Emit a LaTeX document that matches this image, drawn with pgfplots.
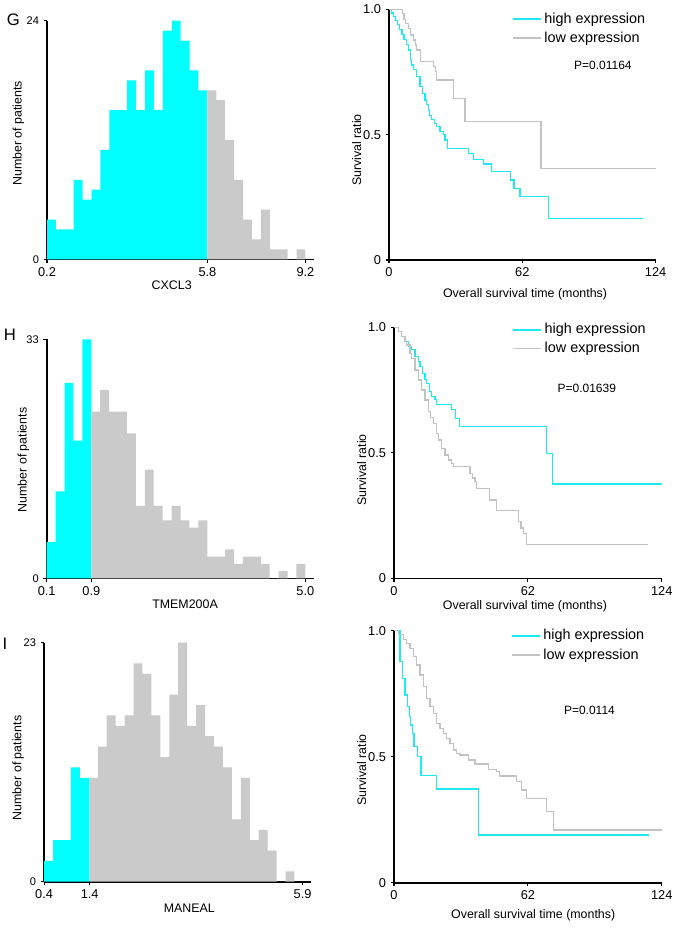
\documentclass[border=0pt]{standalone}
\usepackage{pgfplots}
\pgfplotsset{compat=1.18}
\usepackage{fontspec}
\setmainfont{Liberation Sans}
\definecolor{hcyan}{RGB}{0,255,255}
\definecolor{hgrey}{RGB}{202,202,202}
\definecolor{kmcyan}{RGB}{30,232,242}
\definecolor{kmgrey}{RGB}{195,195,195}
\newcommand{\lblfont}{\fontsize{9.3}{10}\selectfont}
\newcommand{\tckfont}{\fontsize{9.6}{10}\selectfont}
\pgfplotsset{
  base/.style={scale only axis, axis x line*=bottom, axis y line*=left,
    axis line style={line width=1.2pt, black}, tick align=outside,
    major tick length=2.5pt, tick style={line width=0.9pt, black}, clip=false,
    xticklabel style={font=\tckfont}, yticklabel style={font=\tckfont},
    xlabel style={font=\lblfont, anchor=center}, ylabel style={font=\lblfont, anchor=center}},
  hist/.style={base, ymin=0, xmin=0, xmax=30,
    yticklabel style={font=\fontsize{8.3}{9}\selectfont}},
  km/.style={base, xmin=0, xmax=124, ymin=0, ymax=1, xtick={0,62,124}, xticklabels={0,62,124},
    ytick={0,0.5,1}, yticklabels={0,0.5,1.0}, ylabel={Survival ratio},
    xlabel={Overall survival time (months)},
    legend cell align=left,
    legend image code/.code={\draw[##1] (0pt,0pt) -- (21pt,0pt);},
    legend style={draw=none, fill=none, inner sep=0pt, row sep=1pt,
      font=\fontsize{10.8}{11.5}\selectfont, column sep=0pt}},
  kmhigh/.style={const plot, kmcyan, line width=0.9pt, legend image post style={line width=1.5pt}},
  kmlow/.style={const plot, kmgrey, line width=1pt},
}
\begin{document}
\begin{tikzpicture}
\path[use as bounding box] (0,0) rectangle (507.75pt,-696pt);

% ---------- G histogram ----------
\begin{axis}[hist, at={(35.25pt,-194.475pt)}, anchor=south west, width=200.5pt, height=178.95pt,
  ymax=24, ytick={0,24}, yticklabels={0,24},
  xtick={0,18,29}, xticklabels={0.2,5.8,9.2},
  xlabel={CXCL3}, xlabel style={at={(axis description cs:0.4665,-0.108)}},
  ylabel={Number of patients}, ylabel style={at={(axis description cs:-0.107,0.528)}}]
\addplot[ybar interval, fill=hcyan, draw=none] coordinates {
 (0,4) (1,3) (2,3) (3,8) (4,6) (5,7) (6,11) (7,15) (8,15) (9,18) (10,15) (11,19)
 (12,15) (13,23) (14,24) (15,22) (16,19) (17,17) (18,0)};
\addplot[ybar interval, fill=hgrey, draw=none] coordinates {
 (18,17) (19,16) (20,12) (21,8) (22,4) (23,2) (24,5) (25,1) (26,1) (27,0) (28,1) (29,0)};
\end{axis}

% ---------- G survival ----------
\begin{axis}[km, at={(291.75pt,-195pt)}, anchor=south west, width=200pt, height=188pt,
  xlabel style={at={(axis description cs:0.51,-0.137)}},
  ylabel style={at={(axis description cs:-0.121,0.439)}},
  legend style={at={(axis description cs:0.459,0.924)}, anchor=west}]
\addplot[kmhigh] coordinates {
 (0,1) (1,0.985) (2,0.97) (3,0.955) (4,0.94) (5,0.92) (6,0.90) (7,0.88) (8,0.86)
 (9,0.838) (10,0.80) (10.5,0.778) (11.5,0.76) (12.9,0.731) (14.4,0.691) (15.5,0.665)
 (16.7,0.638) (17.5,0.62) (18.3,0.598) (19,0.578) (19.8,0.559) (21,0.545) (22.2,0.532)
 (23.7,0.512) (25.3,0.50) (26,0.479) (27.3,0.445) (36.9,0.426) (39.2,0.402)
 (43.9,0.383) (47.8,0.352) (56.6,0.319) (58.1,0.286) (60.9,0.253) (74.1,0.166) (118.3,0.166)};
\addlegendentry{high expression}
\addplot[kmlow] coordinates {
 (0,1) (6.2,0.984) (7,0.96) (7.8,0.944) (9,0.924) (10.1,0.898) (11.3,0.878)
 (12.3,0.858) (12.9,0.838) (14.7,0.791) (20.6,0.771) (21.5,0.751) (22.2,0.718)
 (29.9,0.645) (35.3,0.552) (70.7,0.366) (124,0.366)};
\addlegendentry{low expression}
\node[font=\fontsize{9}{10}\selectfont] at (axis description cs:0.802,0.778) {P=0.01164};
\end{axis}

% ---------- H histogram ----------
\begin{axis}[hist, at={(35.025pt,-433.725pt)}, anchor=south west, width=200.7pt, height=179.25pt,
  ymax=33, ytick={0,33}, yticklabels={0,33},
  xtick={0,5,29}, xticklabels={0.1,0.9,5.0},
  xlabel={TMEM200A}, xlabel style={at={(axis description cs:0.517,-0.1075)}},
  ylabel={Number of patients}, ylabel style={at={(axis description cs:-0.0874,0.495)}}]
\addplot[ybar interval, fill=hcyan, draw=none] coordinates {
 (0,5) (1,12) (2,27) (3,19) (4,33) (5,0)};
\addplot[ybar interval, fill=hgrey, draw=none] coordinates {
 (5,23) (6,26) (7,23) (8,23) (9,20) (10,10) (11,15) (12,10) (13,8) (14,10) (15,8)
 (16,7) (17,8) (18,3) (19,3) (20,4) (21,2) (22,3) (23,3) (24,2) (25,0) (26,1) (27,0)
 (28,2) (29,0)};
\end{axis}

% ---------- H survival ----------
\begin{axis}[km, at={(295.5pt,-433.725pt)}, anchor=south west, width=200.8pt, height=188.25pt,
  xlabel style={at={(axis description cs:0.489,-0.113)}},
  ylabel style={at={(axis description cs:-0.121,0.431)}},
  legend style={at={(axis description cs:0.44,0.953)}, anchor=west}]
\addplot[kmhigh] coordinates {
 (0,1) (2,0.983) (3.5,0.963) (5.1,0.943) (6.6,0.923) (8.2,0.91) (9.7,0.884)
 (11.3,0.863) (12,0.843) (13.3,0.817) (14.4,0.791) (15.1,0.777) (16.4,0.744)
 (17.4,0.724) (19,0.711) (19.8,0.691) (26.7,0.671) (28.3,0.637) (30.3,0.604)
 (70.7,0.498) (73.5,0.376) (124,0.376)};
\addlegendentry{high expression}
\addplot[kmlow] coordinates {
 (0,1) (2,0.983) (3.5,0.963) (5.1,0.943) (5.9,0.929) (7.4,0.896) (8.2,0.876)
 (9.7,0.83) (11.3,0.79) (12.8,0.75) (14.4,0.71) (15.9,0.664) (17,0.64) (18.2,0.618)
 (19.8,0.578) (20.5,0.551) (22.1,0.518) (23.6,0.491) (25.2,0.471) (26.7,0.458)
 (27.5,0.445) (35.2,0.418) (36.5,0.40) (37.5,0.385) (38.3,0.359) (44.2,0.312)
 (47.6,0.27) (57.6,0.226) (58.8,0.2) (59.9,0.179) (61.5,0.135) (117.8,0.135)};
\addlegendentry{low expression}
\node[font=\fontsize{9}{10}\selectfont] at (axis description cs:0.72,0.757) {P=0.01639};
\end{axis}

% ---------- I histogram ----------
\begin{axis}[hist, at={(33.075pt,-661.275pt)}, anchor=south west, width=200.2pt, height=179.25pt,
  xmax=29.85, ymax=23, ytick={0,23}, yticklabels={0,23},
  xtick={0,5.1,28.9}, xticklabels={0.4,1.4,5.9},
  xlabel={MANEAL}, xlabel style={at={(axis description cs:0.544,-0.111)}},
  ylabel={Number of patients}, ylabel style={at={(axis description cs:-0.0967,0.476)}}]
\addplot[ybar interval, fill=hcyan, draw=none] coordinates {
 (0,2) (1,4) (2,4) (3,11) (4,10) (5.1,0)};
\addplot[ybar interval, fill=hgrey, draw=none] coordinates {
 (5.1,10) (6,13) (7,16) (8,15) (9,16) (10,21) (11,20) (12,16) (13,12) (14,18) (15,23)
 (16,15) (17,17) (18,14) (19,13) (20,11) (21,6) (22,10) (23,4) (24,5) (25,3) (26,0)
 (27,1) (28,0)};
\end{axis}

% ---------- I survival ----------
\begin{axis}[km, at={(295.5pt,-662.025pt)}, anchor=south west, width=200.8pt, height=189pt,
  xlabel style={at={(axis description cs:0.52,-0.128)}},
  ylabel style={at={(axis description cs:-0.121,0.447)}},
  legend style={at={(axis description cs:0.435,0.942)}, anchor=west}]
\addplot[kmhigh] coordinates {
 (0,1) (2.8,0.877) (4,0.811) (5.1,0.745) (6.3,0.698) (7.1,0.659) (7.7,0.626)
 (8.6,0.593) (9.3,0.54) (10.8,0.5) (12.5,0.427) (19.5,0.372) (39.1,0.189) (118.3,0.189)};
\addlegendentry{high expression}
\addplot[kmlow] coordinates {
 (0,1) (2,0.984) (4.3,0.964) (5.9,0.95) (7.4,0.93) (9,0.897) (10.5,0.864) (12,0.824)
 (13.6,0.778) (15.1,0.732) (16.7,0.698) (18.2,0.672) (19.8,0.632) (21.3,0.612)
 (22.9,0.593) (24.4,0.573) (25.9,0.553) (27.5,0.526) (29,0.513) (30.6,0.507)
 (34.4,0.487) (37.5,0.471) (43.7,0.45) (47.6,0.44) (48.8,0.423) (56.8,0.401)
 (59.1,0.368) (61.5,0.335) (70.7,0.282) (73.8,0.209) (124,0.209)};
\addlegendentry{low expression}
\node[font=\fontsize{9}{10}\selectfont] at (axis description cs:0.73,0.685) {P=0.0114};
\end{axis}

% panel letters
\node[font=\fontsize{12.5}{14}\selectfont] at (9.975pt,-15pt) {G};
\node[font=\fontsize{12.5}{14}\selectfont] at (7.5pt,-251.25pt) {H};
\node[font=\fontsize{12.5}{14}\selectfont] at (3.75pt,-482.475pt) {I};
\end{tikzpicture}
\end{document}
